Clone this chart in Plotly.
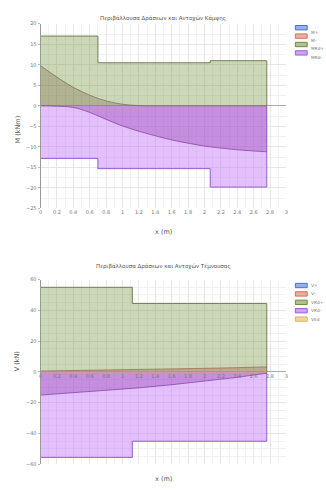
import plotly.graph_objects as go

# --- bending (top chart) ---
x_step_m = [0, 0.7, 2.07, 2.76, 2.76]
mrd_pos = [17, 10.5, 11, 11, 0]
mrd_neg = [-12.8, -15.3, -19.8, -19.8, 0]

x_m = [0, 0.2, 0.4, 0.6, 0.8, 1.0, 1.2, 1.4, 1.6, 1.8, 2.0, 2.2, 2.4, 2.6, 2.76]
m_pos = [9.8, 7.0, 4.5, 2.6, 1.2, 0.4, 0.05, 0, 0, 0, 0, 0, 0, 0, 0]
m_neg = [0, -0.1, -0.4, -1.6, -3.3, -4.9, -6.2, -7.3, -8.3, -9.1, -9.8, -10.3, -10.7, -11.0, -11.2]

# --- shear (bottom chart) ---
x_step_v = [0, 1.12, 2.76, 2.76]
vrd_pos = [55, 44.5, 44.5, 0]
vrd_neg = [-55.5, -45, -45, 0]

x_v = [0, 0.6, 1.16, 1.6, 1.96, 2.4, 2.76]
v_pos = [0.6, 1.0, 1.4, 1.9, 2.3, 2.8, 3.3]
v_neg = [-15, -12.8, -10.5, -8.3, -6.3, -3.5, -0.8]
v_ed = [0, 0, 0, 0, 0, 0, 0]

x_ticks = [0, 0.2, 0.4, 0.6, 0.8, 1, 1.2, 1.4, 1.6, 1.8, 2, 2.2, 2.4, 2.6, 2.8, 3]

legend_m = ["M+", "M-", "MRd+", "MRd-"]
legend_v = ["V+", "V-", "VRd+", "VRd-", "VEd"]
legend_cols = [(70, 110, 220), (220, 110, 90), (110, 140, 60), (160, 90, 235), (225, 180, 90)]

fig = go.Figure()

# top chart
fig.add_trace(go.Scatter(x=x_step_m, y=mrd_pos, mode="lines", line=dict(color="rgba(100,120,70,0.9)", width=1, shape="hv"),
                         fill="tozeroy", fillcolor="rgba(130,160,80,0.42)", name="MRd+", xaxis="x", yaxis="y"))
fig.add_trace(go.Scatter(x=x_step_m, y=mrd_neg, mode="lines", line=dict(color="rgba(140,80,200,0.9)", width=1, shape="hv"),
                         fill="tozeroy", fillcolor="rgba(200,130,250,0.5)", name="MRd-", xaxis="x", yaxis="y"))
fig.add_trace(go.Scatter(x=x_m, y=m_pos, mode="lines", line=dict(color="rgba(110,100,70,0.8)", width=0.8, shape="spline"),
                         fill="tozeroy", fillcolor="rgba(120,100,70,0.32)", name="M+", xaxis="x", yaxis="y"))
fig.add_trace(go.Scatter(x=x_m, y=m_neg, mode="lines", line=dict(color="rgba(120,50,150,0.8)", width=0.8, shape="spline"),
                         fill="tozeroy", fillcolor="rgba(140,50,170,0.35)", name="M-", xaxis="x", yaxis="y"))

# bottom chart
fig.add_trace(go.Scatter(x=x_step_v, y=vrd_pos, mode="lines", line=dict(color="rgba(100,120,70,0.9)", width=1, shape="hv"),
                         fill="tozeroy", fillcolor="rgba(130,160,80,0.42)", name="VRd+", xaxis="x2", yaxis="y2"))
fig.add_trace(go.Scatter(x=x_step_v, y=vrd_neg, mode="lines", line=dict(color="rgba(140,80,200,0.9)", width=1, shape="hv"),
                         fill="tozeroy", fillcolor="rgba(200,130,250,0.5)", name="VRd-", xaxis="x2", yaxis="y2"))
fig.add_trace(go.Scatter(x=x_v, y=v_pos, mode="lines", line=dict(color="rgba(150,90,70,0.8)", width=0.8),
                         fill="tozeroy", fillcolor="rgba(150,90,70,0.35)", name="V+", xaxis="x2", yaxis="y2"))
fig.add_trace(go.Scatter(x=x_v, y=v_neg, mode="lines", line=dict(color="rgba(120,50,150,0.8)", width=0.8),
                         fill="tozeroy", fillcolor="rgba(140,50,170,0.35)", name="V-", xaxis="x2", yaxis="y2"))
fig.add_trace(go.Scatter(x=x_v, y=v_ed, mode="lines", line=dict(color="rgba(225,170,90,0.8)", width=1),
                         name="VEd", xaxis="x2", yaxis="y2"))

W, H = 326, 494
xd = [39 / W, 288 / W]
top_d = [1 - 208 / H, 1 - 21 / H]
bot_d = [1 - 467 / H, 1 - 280 / H]

tick_font = dict(family="DejaVu Sans", size=5, color="#777")
grid = dict(showgrid=True, gridcolor="#e6e6e6", gridwidth=0.6,
            minor=dict(showgrid=True, gridcolor="#f1f1f1", gridwidth=0.5))

# hand-drawn legends (small wide swatches, like the original)
shapes, annots = [], []
for labels, y0 in [(legend_m, 25), (legend_v, 286)]:
    for i, lab in enumerate(labels):
        r, g, b = legend_cols[i]
        yc = y0 + i * 8.5
        shapes.append(dict(type="rect", xref="paper", yref="paper",
                           x0=297 / W, x1=309 / W, y0=1 - (yc + 2.2) / H, y1=1 - (yc - 2.2) / H,
                           fillcolor=f"rgba({r},{g},{b},0.55)", line=dict(color=f"rgb({r},{g},{b})", width=1)))
        annots.append(dict(text=lab, x=310.5 / W, y=1 - yc / H, xref="paper", yref="paper", xanchor="left",
                           showarrow=False, font=dict(size=4.3, color="#777")))

fig.update_layout(
    width=W, height=H,
    margin=dict(l=0, r=0, t=0, b=0),
    paper_bgcolor="white", plot_bgcolor="white",
    showlegend=False,
    font=dict(family="DejaVu Sans", size=5, color="#666"),
    xaxis=dict(domain=xd, anchor="y", range=[0, 3], tickvals=x_ticks, tickfont=tick_font,
               showline=False, zeroline=False, ticks="", minor_dtick=0.1, **grid),
    yaxis=dict(domain=top_d, anchor="x", range=[-25, 20], dtick=5, tickfont=tick_font,
               showline=True, linecolor="#999", linewidth=1, ticks="outside", ticklen=2, tickcolor="#bbb",
               zeroline=True, zerolinecolor="#aaa", zerolinewidth=1, minor_dtick=2.5, **grid),
    xaxis2=dict(domain=xd, anchor="free", position=(bot_d[0] + bot_d[1]) / 2, range=[0, 3], tickvals=x_ticks,
                tickfont=tick_font, showline=False, zeroline=False, ticks="", minor_dtick=0.1, **grid),
    yaxis2=dict(domain=bot_d, anchor="x2", range=[-60, 60], dtick=20, tickfont=tick_font,
                showline=True, linecolor="#999", linewidth=1, ticks="outside", ticklen=2, tickcolor="#bbb",
                zeroline=True, zerolinecolor="#aaa", zerolinewidth=1, minor_dtick=5, **grid),
    shapes=shapes,
    annotations=annots + [
        dict(text="Περιβάλλουσα Δράσεων και Αντοχών Κάμψης", x=(xd[0] + xd[1]) / 2, y=1 - 10 / H,
             xref="paper", yref="paper", showarrow=False, font=dict(size=5.5, color="#555")),
        dict(text="Περιβάλλουσα Δράσεων και Αντοχών Τέμνουσας", x=(xd[0] + xd[1]) / 2, y=1 - 267 / H,
             xref="paper", yref="paper", showarrow=False, font=dict(size=5.5, color="#555")),
        dict(text="x (m)", x=(xd[0] + xd[1]) / 2, y=1 - 232 / H, xref="paper", yref="paper",
             showarrow=False, font=dict(size=6.5, color="#555")),
        dict(text="x (m)", x=(xd[0] + xd[1]) / 2, y=1 - 488 / H, xref="paper", yref="paper",
             showarrow=False, font=dict(size=6.5, color="#555")),
        dict(text="M (kNm)", x=10 / W, y=1 - 112 / H, xref="paper", yref="paper", textangle=-90,
             showarrow=False, font=dict(size=6.5, color="#555")),
        dict(text="V (kN)", x=10 / W, y=1 - 375 / H, xref="paper", yref="paper", textangle=-90,
             showarrow=False, font=dict(size=6.5, color="#555")),
    ],
)

fig.write_html("out.html", config={"displayModeBar": False},
               post_script="document.body.style.margin='0';")
